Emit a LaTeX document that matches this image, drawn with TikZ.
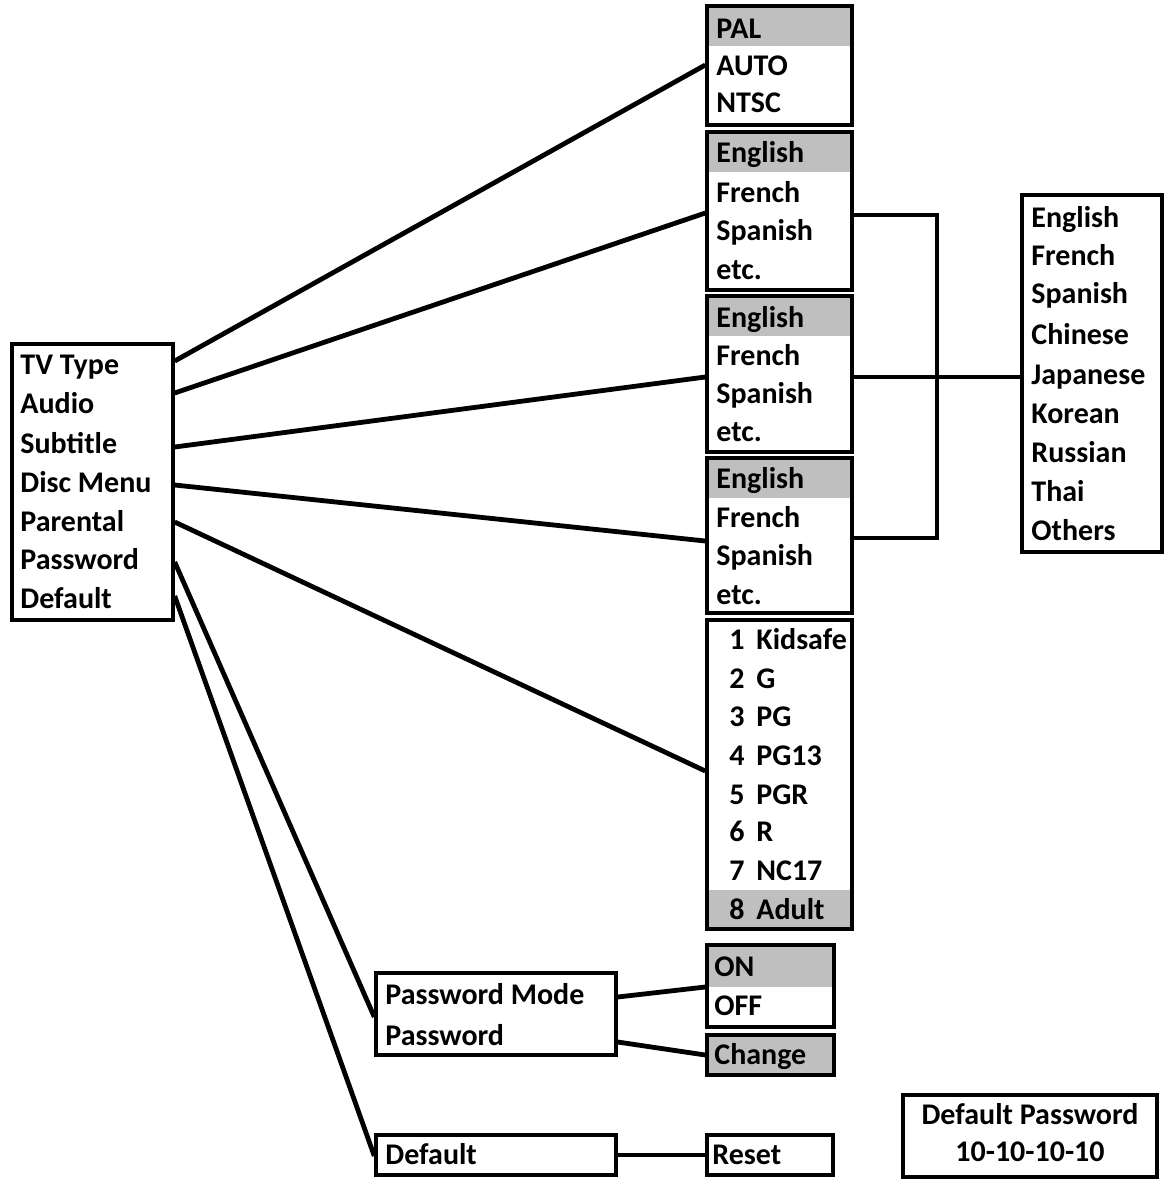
\documentclass[tikz,border=0pt]{standalone}
\usepackage{fontspec}
\setmainfont{Carlito}
\usetikzlibrary{fit}

\begin{document}
\begin{tikzpicture}[
x=0.5pt, y=-0.5pt,
box/.style={draw, line width=1.7pt, inner sep=0pt},
shade/.style={fill=black!25, draw=none, inner sep=0pt},
item/.style={anchor=base west, inner sep=0pt, font=\fontsize{15}{18}\selectfont\bfseries},
mid/.style={item, anchor=base},
link/.style={line width=2.4pt}
]
\useasboundingbox (0,0) rectangle (1171,1179);

% highlighted rows
\node[shade, fit={(707,6) (852,46)}] (tvsel) {};
\node[shade, fit={(707,132) (852,172)}] (audiosel) {};
\node[shade, fit={(707,296) (852,336)}] (subsel) {};
\node[shade, fit={(707,458) (852,498)}] (discsel) {};
\node[shade, fit={(707,890) (852,929)}] (parsel) {};
\node[shade, fit={(707,945) (834,987)}] (onsel) {};
\node[shade, fit={(707,1035) (834,1075)}] (chsel) {};

% boxes
\node[box, fit={(12,344) (173,620)}] (setup) {};
\node[box, fit={(707,6) (852,125)}] (tv) {};
\node[box, fit={(707,132) (852,290)}] (audio) {};
\node[box, fit={(707,296) (852,452)}] (sub) {};
\node[box, fit={(707,458) (852,613)}] (disc) {};
\node[box, fit={(707,620) (852,929)}] (parental) {};
\node[box, fit={(1022,195) (1162,552)}] (lang) {};
\node[box, fit={(376,973) (616,1055)}] (pwd) {};
\node[box, fit={(707,945) (834,1027)}] (mode) {};
\node[box, fit={(707,1035) (834,1075)}] (change) {};
\node[box, fit={(376,1135) (616,1175)}] (dflt) {};
\node[box, fit={(707,1135) (833,1175)}] (reset) {};
\node[box, fit={(903,1095) (1157,1177)}] (note) {};

% setup menu
\node[item] (s1) at (20,374) {TV Type};
\node[item] (s2) at (20,413) {Audio};
\node[item] (s3) at (20,453) {Subtitle};
\node[item] (s4) at (20,492) {Disc Menu};
\node[item] (s5) at (20,531) {Parental};
\node[item] (s6) at (20,569) {Password};
\node[item] (s7) at (20,608) {Default};

% tv type
\node[item] (t1) at (716,38) {PAL};
\node[item] (t2) at (716,75) {AUTO};
\node[item] (t3) at (716,112) {NTSC};

% audio
\node[item] (a1) at (716,162) {English};
\node[item] (a2) at (716,202) {French};
\node[item] (a3) at (716,240) {Spanish};
\node[item] (a4) at (716,279) {etc.};

% subtitle
\node[item] (b1) at (716,327) {English};
\node[item] (b2) at (716,365) {French};
\node[item] (b3) at (716,403) {Spanish};
\node[item] (b4) at (716,441) {etc.};

% disc menu
\node[item] (d1) at (716,488) {English};
\node[item] (d2) at (716,527) {French};
\node[item] (d3) at (716,565) {Spanish};
\node[item] (d4) at (716,604) {etc.};

% parental levels
\node[item] (p1) at (729,649) {1\, Kidsafe};
\node[item] (p2) at (729,688) {2\, G};
\node[item] (p3) at (729,726) {3\, PG};
\node[item] (p4) at (729,765) {4\, PG13};
\node[item] (p5) at (729,804) {5\, PGR};
\node[item] (p6) at (729,841) {6\, R};
\node[item] (p7) at (729,880) {7\, NC17};
\node[item] (p8) at (729,919) {8\, Adult};

% languages
\node[item] (l1) at (1031,227) {English};
\node[item] (l2) at (1031,265) {French};
\node[item] (l3) at (1031,303) {Spanish};
\node[item] (l4) at (1031,344) {Chinese};
\node[item] (l5) at (1031,384) {Japanese};
\node[item] (l6) at (1031,423) {Korean};
\node[item] (l7) at (1031,462) {Russian};
\node[item] (l8) at (1031,501) {Thai};
\node[item] (l9) at (1031,540) {Others};

% password and default
\node[item] (w1) at (385,1004) {Password Mode};
\node[item] (w2) at (385,1045) {Password};
\node[item] (o1) at (714,976) {ON};
\node[item] (o2) at (714,1015) {OFF};
\node[item] (c1) at (714,1064) {Change};
\node[item] (f1) at (385,1164) {Default};
\node[item] (r1) at (712,1164) {Reset};
\node[mid] (n1) at (1030,1124) {Default Password};
\node[mid] (n2) at (1030,1161) {10-10-10-10};

% connectors
\draw[link] (setup.east |- 0,361) -- (tv.west |- 0,65);
\draw[link] (setup.east |- 0,393) -- (audio.west |- 0,213);
\draw[link] (setup.east |- 0,447) -- (sub.west |- 0,377);
\draw[link] (setup.east |- 0,485) -- (disc.west |- 0,541);
\draw[link] (setup.east |- 0,522) -- (parental.west |- 0,771);
\draw[link] (setup.east |- 0,562) -- (pwd.west |- 0,1017);
\draw[link] (setup.east |- 0,596) -- (dflt.west |- 0,1156);
\draw[link] (pwd.east |- 0,997) -- (mode.west |- 0,987);
\draw[link] (pwd.east |- 0,1042) -- (change.west |- 0,1055);
\draw[link] (dflt.east |- 0,1155) -- (reset.west |- 0,1155);

% language bracket
\coordinate (fork) at (937,377);
\draw[link] (audio.east |- 0,215) -| (fork) |- (disc.east |- 0,538);
\draw[link] (sub.east |- 0,377) -- (lang.west |- 0,377);

\end{tikzpicture}
\end{document}
